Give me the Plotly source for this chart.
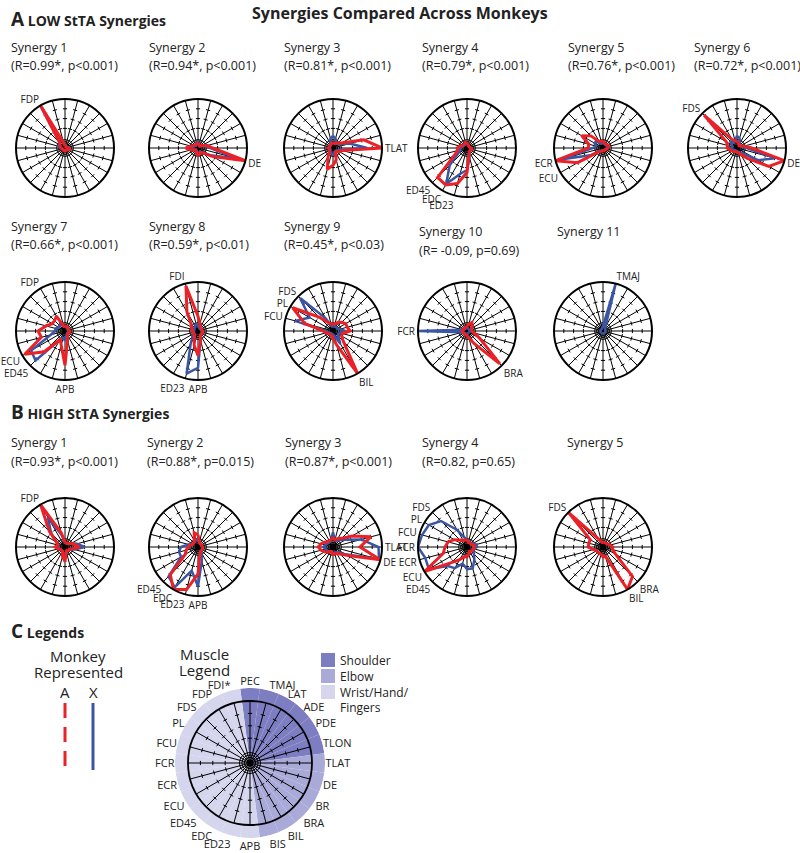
import plotly.graph_objects as go

W, H = 800, 853
RED = "#ec2127"
BLUE = "#3b55a5"
FONT = "Open Sans"

MUSCLES = ["PEC", "TMAJ", "LAT", "ADE", "PDE", "TLON", "TLAT", "DE", "BR", "BRA", "BIL", "BIS",
           "APB", "ED23", "EDC", "ED45", "ECU", "ECR", "FCR", "FCU", "PL", "FDS", "FDP", "FDI"]
REGIONS = ["Shoulder"] * 6 + ["Elbow"] * 6 + ["Wrist/Hand/Fingers"] * 12
REGION_COLORS = {"Shoulder": "#7d7dc2", "Elbow": "#aaaad9", "Wrist/Hand/Fingers": "#d5d5ee"}

LOW_STATS = ["(R=0.99*, p<0.001)", "(R=0.94*, p<0.001)", "(R=0.81*, p<0.001)", "(R=0.79*, p<0.001)",
             "(R=0.76*, p<0.001)", "(R=0.72*, p<0.001)", "(R=0.66*, p<0.001)", "(R=0.59*, p<0.01)",
             "(R=0.45*, p<0.03)", "(R= -0.09, p=0.69)", ""]
HIGH_STATS = ["(R=0.93*, p<0.001)", "(R=0.88*, p=0.015)", "(R=0.87*, p<0.001)", "(R=0.82, p=0.65)", ""]

LOW_LABELS = [["FDP"], ["DE"], ["TLAT"], ["ED45", "EDC", "ED23"], ["ECR", "ECU"], ["FDS", "DE"],
              ["FDP", "ECU", "ED45", "APB"], ["FDI", "ED23", "APB"], ["FDS", "PL", "FCU", "BIL"],
              ["FCR", "BRA"], ["TMAJ"]]
HIGH_LABELS = [["FDP"], ["ED45", "EDC", "ED23", "APB"], ["TLAT", "DE"],
               ["FDS", "PL", "FCU", "FCR", "ECR", "ECU", "ED45"], ["FDS", "BRA", "BIL"]]

# weights per muscle, order = MUSCLES (monkey A red, monkey X blue)
LOW_A = [
    [.04, .03, .03, .03, .04, .05, .08, .10, .08, .06, .05, .05, .06, .05, .05, .06, .05, .06, .08, .10, .12, .15, 1.0, .12],
    [.10, .08, .06, .05, .10, .20, .30, 1.0, .35, .15, .10, .12, .15, .10, .08, .06, .08, .15, .25, .15, .10, .08, .08, .10],
    [.12, .10, .10, .15, .20, .65, 1.0, .20, .15, .10, .10, .25, .35, .45, .20, .10, .08, .08, .10, .08, .08, .08, .08, .10],
    [.10, .08, .06, .05, .05, .06, .08, .10, .08, .08, .10, .15, .50, .75, .87, .85, .30, .20, .20, .15, .10, .10, .10, .12],
    [.15, .10, .10, .10, .12, .12, .10, .08, .06, .06, .05, .06, .06, .06, .08, .10, .60, 1.0, .30, .30, .50, .35, .15, .15],
    [.15, .10, .08, .06, .08, .15, .30, 1.0, .75, .30, .15, .10, .08, .08, .08, .10, .12, .15, .20, .20, .25, .95, .20, .15],
    [.10, .10, .10, .08, .08, .08, .10, .10, .08, .08, .10, .20, .70, .30, .20, .60, .95, .50, .55, .40, .30, .30, .35, .10],
    [.30, .15, .10, .08, .08, .08, .10, .10, .10, .10, .10, .20, .50, .30, .15, .10, .10, .10, .12, .12, .15, .20, .45, .95],
    [.15, .15, .20, .25, .30, .30, .35, .20, .20, .30, 1.0, .30, .15, .10, .10, .10, .10, .15, .20, .60, .95, .40, .20, .15],
    [.10, .15, .20, .15, .10, .10, .10, .15, .30, .95, .30, .15, .10, .08, .08, .08, .08, .08, .10, .08, .08, .08, .08, .08],
    None,
]
LOW_X = [
    [.05, .06, .05, .04, .04, .05, .10, .10, .06, .05, .05, .05, .06, .06, .05, .05, .05, .06, .10, .15, .12, .15, .95, .10],
    [.15, .08, .05, .05, .08, .15, .25, .85, .30, .12, .08, .10, .12, .08, .06, .05, .06, .10, .15, .10, .08, .06, .06, .10],
    [.25, .20, .12, .12, .15, .35, .70, .15, .10, .08, .08, .10, .12, .12, .10, .08, .06, .06, .10, .08, .06, .08, .10, .20],
    [.08, .06, .05, .05, .05, .05, .06, .08, .08, .08, .10, .20, .45, .55, .85, .50, .20, .15, .12, .10, .08, .08, .08, .10],
    [.12, .10, .08, .08, .10, .10, .08, .06, .05, .05, .05, .05, .05, .06, .06, .08, .30, .90, .20, .15, .20, .20, .10, .10],
    [.25, .20, .12, .08, .08, .10, .20, .80, .50, .15, .10, .08, .06, .06, .06, .06, .08, .10, .12, .10, .12, .20, .12, .15],
    [.10, .08, .08, .06, .06, .06, .08, .08, .06, .06, .08, .10, .20, .15, .20, .85, .80, .30, .20, .20, .15, .15, .20, .10],
    [.10, .08, .06, .06, .06, .06, .08, .08, .08, .08, .10, .20, .75, .90, .30, .15, .10, .08, .08, .08, .08, .10, .12, .15],
    [.10, .10, .10, .10, .10, .15, .25, .15, .12, .15, .30, .10, .08, .06, .06, .06, .08, .10, .15, .80, .55, .95, .30, .10],
    [.06, .06, .05, .05, .05, .05, .06, .06, .05, .05, .05, .05, .06, .06, .06, .06, .08, .10, 1.0, .10, .06, .06, .06, .06],
    [.10, 1.0, .10, .06, .05, .05, .05, .05, .05, .05, .05, .05, .05, .05, .05, .05, .05, .05, .05, .05, .05, .05, .05, .06],
]
HIGH_A = [
    [.10, .08, .08, .10, .15, .20, .30, .15, .10, .10, .08, .10, .30, .20, .10, .10, .10, .15, .20, .15, .20, .45, 1.0, .30],
    [.25, .10, .08, .08, .08, .08, .10, .10, .10, .10, .10, .15, .55, .90, 1.0, .80, .30, .25, .20, .15, .12, .12, .15, .30],
    [.20, .15, .20, .25, .45, .80, .55, 1.0, .35, .20, .15, .15, .15, .10, .10, .15, .20, .25, .30, .25, .20, .15, .15, .15],
    [.15, .10, .10, .10, .10, .15, .15, .15, .12, .12, .10, .15, .20, .20, .30, .45, 1.0, .50, .45, .40, .30, .20, .15, .15],
    [.10, .10, .10, .10, .12, .15, .20, .20, .30, .85, 1.0, .20, .20, .15, .15, .15, .15, .20, .30, .30, .30, 1.0, .20, .10],
]
HIGH_X = [
    [.10, .08, .08, .10, .15, .25, .40, .20, .10, .10, .08, .10, .20, .15, .10, .10, .10, .12, .15, .15, .20, .40, .70, .25],
    [.15, .10, .08, .08, .08, .08, .10, .10, .10, .10, .15, .30, .80, .50, .95, .85, .40, .40, .35, .20, .12, .12, .12, .15],
    [.30, .15, .15, .20, .30, .60, .93, .97, .30, .15, .12, .12, .12, .10, .10, .12, .15, .15, .20, .15, .15, .12, .12, .15],
    [.15, .10, .10, .12, .15, .20, .20, .15, .15, .20, .30, .45, .45, .35, .50, .55, .90, .88, 1.0, .95, .90, .75, .40, .20],
    None,
]

# layout (pixel positions of plot centres and titles)
COLS = [65, 198, 333, 467, 603, 737]
RAD = 49
SPOKE_TICKS = [0.4, 0.6, 0.8]
RINGS = [0.05, 0.09, 0.13, 0.17]


def px(x):
    return x / W


def py(y):
    return 1 - y / H


def domain(cx, cy, half):
    return dict(x=[px(cx - half), px(cx + half)], y=[py(cy + half), py(cy - half)])


fig = go.Figure()
polars = {}
annotations = []
n = 0


def next_polar():
    global n
    n += 1
    return "polar" if n == 1 else f"polar{n}"


def add_text(x, y, text, size=12.5, anchor="left", color="#222"):
    annotations.append(dict(x=px(x), y=py(y), xref="paper", yref="paper", text=text, showarrow=False,
                            xanchor=anchor, yanchor="middle", font=dict(size=size, color=color, family=FONT)))


def wheel_axes(cx, cy, half, labels, linewidth=2, gridwidth=1.3):
    return dict(
        domain=domain(cx, cy, half),
        bgcolor="rgba(0,0,0,0)",
        radialaxis=dict(range=[0, 1], tickvals=RINGS, showticklabels=False, ticks="", showline=False,
                        gridcolor="black", gridwidth=0.8),
        angularaxis=dict(type="category", categoryarray=MUSCLES, direction="clockwise", rotation=90,
                         tickmode="array", tickvals=MUSCLES,
                         ticktext=[m if m in labels else "" for m in MUSCLES],
                         ticks="", showline=True, linecolor="black", linewidth=linewidth,
                         showgrid=True, gridcolor="black", gridwidth=gridwidth,
                         tickfont=dict(size=10, color="#222", family=FONT)),
    )


def add_spoke_ticks(name):
    rr, tt, ang = [], [], []
    for i, m in enumerate(MUSCLES):
        for t in SPOKE_TICKS:
            rr.append(t)
            tt.append(m)
            ang.append(15 * i)
    fig.add_trace(go.Scatterpolar(r=rr, theta=tt, mode="markers", subplot=name, showlegend=False,
                                  hoverinfo="skip",
                                  marker=dict(symbol="line-ew", size=3, angle=ang, color="black",
                                              line=dict(color="black", width=1))))


def add_synergy(cx, cy, a_vals, x_vals, labels):
    name = next_polar()
    polars[name] = wheel_axes(cx, cy, RAD, labels)
    add_spoke_ticks(name)
    for vals, color, width in ((x_vals, BLUE, 2.5), (a_vals, RED, 3)):
        if vals is None:
            continue
        fig.add_trace(go.Scatterpolar(r=vals + vals[:1], theta=MUSCLES + MUSCLES[:1], mode="lines",
                                      line=dict(color=color, width=width), subplot=name,
                                      showlegend=False))


# headings
add_text(400, 13, "<b>Synergies Compared Across Monkeys</b>", size=16, anchor="center")
add_text(9, 19, "<b><span style='font-size:19px'>A</span> LOW StTA Synergies</b>", size=14)
add_text(9, 412, "<b><span style='font-size:19px'>B</span> HIGH StTA Synergies</b>", size=14)
add_text(9, 631, "<b><span style='font-size:19px'>C</span> Legends</b>", size=14)

# section A
low_title_x = [9, 147, 282, 420, 566, 692, 9, 147, 282, 417, 555]
low_title_y = [(47, 65)] * 6 + [(227, 245)] * 3 + [(231, 250)] * 2
for k in range(11):
    row, col = divmod(k, 6)
    cy = 148 if row == 0 else 331
    add_synergy(COLS[col], cy, LOW_A[k], LOW_X[k], LOW_LABELS[k])
    add_text(low_title_x[k], low_title_y[k][0], f"Synergy {k + 1}")
    if LOW_STATS[k]:
        add_text(low_title_x[k], low_title_y[k][1], LOW_STATS[k])

# section B
high_title_x = [9, 145, 283, 420, 565]
for k in range(5):
    add_synergy(COLS[k], 547, HIGH_A[k], HIGH_X[k], HIGH_LABELS[k])
    add_text(high_title_x[k], 442, f"Synergy {k + 1}")
    if HIGH_STATS[k]:
        add_text(high_title_x[k], 461, HIGH_STATS[k])

# section C: monkey legend
add_text(78, 656, "Monkey", size=15, anchor="center")
add_text(78, 672, "Represented", size=15, anchor="center")
add_text(65, 692, "A", size=15, anchor="center")
add_text(93, 692, "X", size=15, anchor="center")
shapes = [
    dict(type="line", xref="paper", yref="paper", x0=px(65), x1=px(65), y0=py(703), y1=py(770),
         line=dict(color=RED, width=3, dash="15px,9px")),
    dict(type="line", xref="paper", yref="paper", x0=px(93), x1=px(93), y0=py(703), y1=py(770),
         line=dict(color=BLUE, width=3)),
]

# section C: muscle legend wheel (shaded regions + names underneath, black wheel on top)
add_text(204, 654, "Muscle", size=15, anchor="center")
add_text(204, 670, "Legend", size=15, anchor="center")
LCX, LCY, LR = 250, 763, 62
OUTER = 1.21
shade = next_polar()
polars[shade] = dict(
    domain=domain(LCX, LCY, LR * OUTER),
    bgcolor="rgba(0,0,0,0)",
    bargap=0,
    radialaxis=dict(range=[0, OUTER], showticklabels=False, ticks="", showline=False, showgrid=False),
    angularaxis=dict(type="category", categoryarray=MUSCLES, direction="clockwise", rotation=90,
                     tickmode="array", tickvals=MUSCLES,
                     ticktext=[m + "*" if m == "FDI" else m for m in MUSCLES],
                     ticks="", showline=False, showgrid=False,
                     tickfont=dict(size=11, color="#222", family=FONT)),
)
fig.add_trace(go.Barpolar(r=[OUTER] * len(MUSCLES), theta=MUSCLES, subplot=shade, showlegend=False,
                          marker=dict(color=[REGION_COLORS[g] for g in REGIONS], line=dict(width=0)),
                          hoverinfo="skip"))
wheel = next_polar()
polars[wheel] = wheel_axes(LCX, LCY, LR, [], linewidth=1.8, gridwidth=1.3)
add_spoke_ticks(wheel)

# region legend boxes
for i, (g, label) in enumerate([("Shoulder", "Shoulder"), ("Elbow", "Elbow"),
                                ("Wrist/Hand/Fingers", "Wrist/Hand/")]):
    y = 660 + 16 * i
    shapes.append(dict(type="rect", xref="paper", yref="paper", x0=px(321), x1=px(335),
                       y0=py(y + 7), y1=py(y - 7), fillcolor=REGION_COLORS[g], line=dict(width=0)))
    add_text(338, y, label, size=12)
add_text(338, 707, "Fingers", size=12)

fig.update_layout(
    width=W, height=H,
    margin=dict(l=0, r=0, t=0, b=0),
    paper_bgcolor="white",
    plot_bgcolor="white",
    font=dict(family=FONT, color="#222"),
    annotations=annotations,
    shapes=shapes,
    **polars,
)

fig.write_html("out.html", config={"displayModeBar": False},
               post_script="document.body.style.margin='0';")
